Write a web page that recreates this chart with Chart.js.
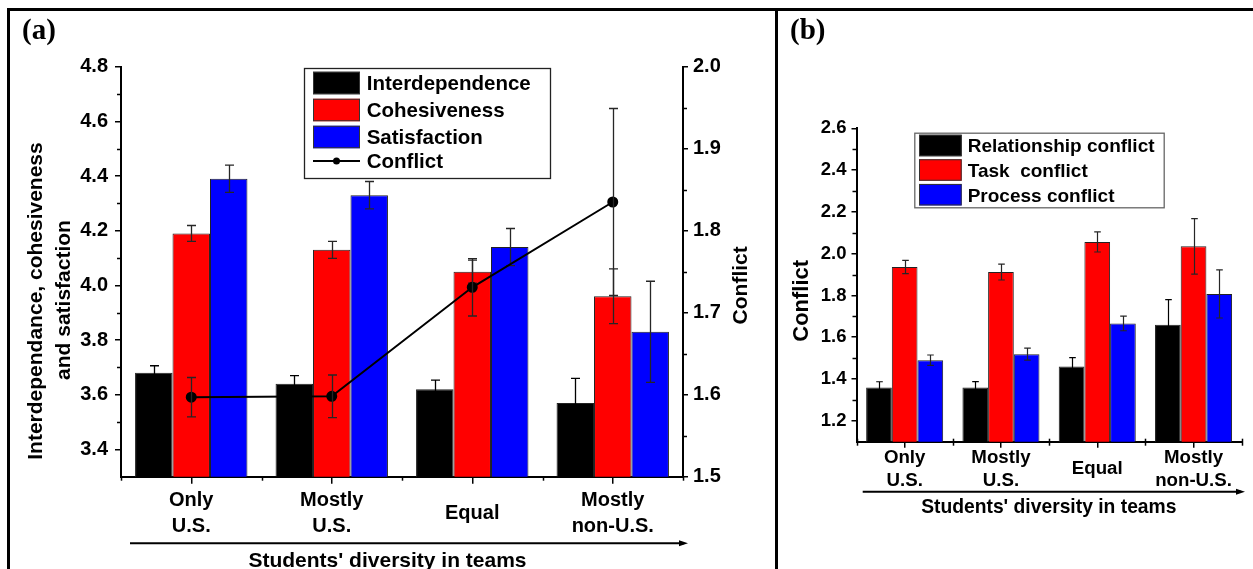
<!DOCTYPE html>
<html><head><meta charset="utf-8">
<script src="https://cdn.jsdelivr.net/npm/chart.js@4.4.1/dist/chart.umd.min.js"></script>
<style>
html,body{margin:0;padding:0;background:#fff;width:1253px;height:569px;overflow:hidden;}
#wa{position:absolute;left:0;top:0;width:775px;height:569px;}
#wb{position:absolute;left:775px;top:0;width:478px;height:569px;}
.ln{position:absolute;background:#000;}
</style></head><body>
<div id="wa"><canvas id="ca"></canvas></div>
<div id="wb"><canvas id="cb"></canvas></div>
<div class="ln" style="left:7px;top:8px;width:1246px;height:2.7px"></div>
<div class="ln" style="left:7px;top:8px;width:2.7px;height:561px"></div>
<div class="ln" style="left:775px;top:8px;width:2.8px;height:561px"></div>
<script>
// ---------- data ----------
const categories = ['Only U.S.', 'Mostly U.S.', 'Equal', 'Mostly non-U.S.'];
const categoryLines = [['Only', 'U.S.'], ['Mostly', 'U.S.'], ['Equal'], ['Mostly', 'non-U.S.']];
const xTitle = "Students' diversity in teams";

// panel (a)
const interdependence = [3.68, 3.64, 3.62, 3.57];
const interdependenceErr = [0.026, 0.030, 0.033, 0.090];
const cohesiveness = [4.19, 4.13, 4.05, 3.96];
const cohesivenessErr = [0.029, 0.031, 0.042, 0.100];
const satisfaction = [4.39, 4.33, 4.14, 3.83];
const satisfactionErr = [0.050, 0.050, 0.068, 0.185];
const conflict = [1.597, 1.598, 1.731, 1.835];
const conflictErr = [0.024, 0.026, 0.035, 0.114];
const leftTicksA = [3.4, 3.6, 3.8, 4.0, 4.2, 4.4, 4.6, 4.8];
const rightTicksA = [1.5, 1.6, 1.7, 1.8, 1.9, 2.0];

// panel (b)
const relationshipConflict = [1.36, 1.36, 1.46, 1.66];
const relationshipConflictErr = [0.027, 0.028, 0.042, 0.120];
const taskConflict = [1.936, 1.912, 2.056, 2.035];
const taskConflictErr = [0.032, 0.038, 0.048, 0.133];
const processConflict = [1.490, 1.519, 1.666, 1.807];
const processConflictErr = [0.025, 0.029, 0.035, 0.115];
const ticksB = [1.2, 1.4, 1.6, 1.8, 2.0, 2.2, 2.4, 2.6];

// ---------- helpers ----------
const SANS = '"Liberation Sans", Arial, sans-serif';
const SERIF = '"Liberation Serif", "Times New Roman", serif';
function f(size) { return 'bold ' + size + 'px ' + SANS; }

function makePlugin(c) {
  return {
    id: 'deco' + c.name,
    afterDatasetDraw(chart, args) {
      const ds = chart.data.datasets[args.index];
      if (!ds.errors) return;
      const meta = args.meta;
      const ys = chart.scales[meta.yAxisID];
      const ctx = chart.ctx;
      ctx.save();
      ctx.strokeStyle = ds.errorColor || c.errColor;
      ctx.lineWidth = c.errWidth;
      meta.data.forEach((el, j) => {
        const v = ds.data[j], e = ds.errors[j];
        const x = Math.round(el.x) + 0.5;
        const y1 = ys.getPixelForValue(v + e), y2 = ys.getPixelForValue(v - e);
        ctx.beginPath();
        ctx.moveTo(x, y1); ctx.lineTo(x, y2);
        ctx.moveTo(x - c.cap, y1); ctx.lineTo(x + c.cap, y1);
        ctx.moveTo(x - c.cap, y2); ctx.lineTo(x + c.cap, y2);
        ctx.stroke();
      });
      ctx.restore();
    },
    afterDraw(chart) {
      const ctx = chart.ctx;
      const ca = chart.chartArea;
      const xs = chart.scales.x;
      ctx.save();
      ctx.strokeStyle = '#000';
      ctx.fillStyle = '#000';
      ctx.lineWidth = 1.5;
      // minor y ticks
      c.minorY.forEach(m => {
        const sc = chart.scales[m.id];
        const arr = m.ticks;
        for (let i = 0; i < arr.length - 1; i++) {
          const y = Math.round(sc.getPixelForValue((arr[i] + arr[i + 1]) / 2)) + 0.5;
          const x0 = m.side === 'left' ? ca.left : ca.right;
          const dx = m.side === 'left' ? -4 : 4;
          ctx.beginPath(); ctx.moveTo(x0, y); ctx.lineTo(x0 + dx, y); ctx.stroke();
        }
      });
      // x boundary ticks
      const n = categories.length;
      for (let i = 0; i <= n; i++) {
        let x;
        if (i === 0) x = ca.left; else if (i === n) x = ca.right;
        else x = (xs.getPixelForValue(i - 1) + xs.getPixelForValue(i)) / 2;
        x = Math.round(x) + 0.5;
        ctx.beginPath(); ctx.moveTo(x, ca.bottom - c.bTickUp); ctx.lineTo(x, ca.bottom + 4); ctx.stroke();
      }
      // x category labels
      ctx.font = f(c.xLabSize);
      ctx.textAlign = 'center';
      ctx.textBaseline = 'alphabetic';
      categoryLines.forEach((lines, i) => {
        const x = xs.getPixelForValue(i);
        if (lines.length === 1) {
          ctx.fillText(lines[0], x, ca.bottom + c.xLabBase + c.xLabGap / 2);
        } else {
          lines.forEach((t, k) => ctx.fillText(t, x, ca.bottom + c.xLabBase + k * c.xLabGap));
        }
      });
      // arrow
      ctx.lineWidth = 2;
      ctx.beginPath(); ctx.moveTo(c.arrow[0], c.arrow[2]); ctx.lineTo(c.arrow[1] - 4, c.arrow[2]); ctx.stroke();
      ctx.beginPath();
      ctx.moveTo(c.arrow[1], c.arrow[2]);
      ctx.lineTo(c.arrow[1] - 9, c.arrow[2] - 3);
      ctx.lineTo(c.arrow[1] - 9, c.arrow[2] + 3);
      ctx.closePath(); ctx.fill();
      // x title
      ctx.font = f(c.xTitleSize);
      ctx.fillText(xTitle, c.xTitlePos[0], c.xTitlePos[1]);
      // y titles (rotated)
      c.yTitles.forEach(t => {
        ctx.save();
        ctx.translate(t.x, t.y);
        ctx.rotate(-Math.PI / 2);
        ctx.font = f(t.size);
        ctx.textAlign = 'center';
        ctx.fillText(t.text, 0, 0);
        ctx.restore();
      });
      // legend
      const L = c.legend;
      ctx.fillStyle = '#fff';
      ctx.fillRect(L.box[0], L.box[1], L.box[2], L.box[3]);
      ctx.strokeStyle = L.boxColor; ctx.lineWidth = 1.3;
      ctx.strokeRect(L.box[0] + 0.5, L.box[1] + 0.5, L.box[2], L.box[3]);
      ctx.font = f(L.size);
      ctx.textAlign = 'left';
      chart.data.datasets.forEach((ds, i) => {
        const cy = L.rows[i];
        if (ds.type === 'line') {
          ctx.strokeStyle = '#000'; ctx.lineWidth = 2;
          ctx.beginPath(); ctx.moveTo(L.sw[0], cy); ctx.lineTo(L.sw[1], cy); ctx.stroke();
          ctx.fillStyle = '#000';
          ctx.beginPath(); ctx.arc((L.sw[0] + L.sw[1]) / 2, cy, 3.5, 0, Math.PI * 2); ctx.fill();
        } else {
          ctx.fillStyle = ds.backgroundColor;
          ctx.fillRect(L.sw[0], cy - L.swH / 2, L.sw[1] - L.sw[0], L.swH);
          ctx.strokeStyle = '#333'; ctx.lineWidth = 1;
          ctx.strokeRect(L.sw[0] + 0.5, cy - L.swH / 2 + 0.5, L.sw[1] - L.sw[0] - 1, L.swH - 1);
        }
        ctx.fillStyle = '#000';
        ctx.fillText(ds.label, L.tx, cy + L.size * 0.36);
      });
      // panel label
      ctx.font = 'bold ' + c.tagSize + 'px ' + SERIF;
      ctx.fillText(c.tag, c.tagPos[0], c.tagPos[1]);
      ctx.restore();
    }
  };
}

function yScale(opts) {
  return Object.assign({
    type: 'linear',
    afterBuildTicks: s => { s.ticks = opts.list.map(v => ({ value: v })); },
    ticks: { font: { family: SANS, weight: 'bold', size: opts.size }, color: '#000', padding: opts.pad,
             callback: v => Number(v).toFixed(1) },
    grid: { drawOnChartArea: false, tickLength: opts.tl, color: '#000', lineWidth: 1.5 },
    border: { display: true, color: '#000', width: 2 },
    afterFit: s => { s.width = opts.w; }
  }, opts.extra);
}

Chart.defaults.font.family = SANS;

// ---------- panel (a) ----------
new Chart(document.getElementById('ca'), {
  type: 'bar',
  data: {
    labels: categories,
    datasets: [
      { label: 'Interdependence', data: interdependence, errors: interdependenceErr, errorColor: '#000', backgroundColor: '#000000', borderColor: '#222', borderWidth: 1, yAxisID: 'y', order: 1 },
      { label: 'Cohesiveness', data: cohesiveness, errors: cohesivenessErr, backgroundColor: '#ff0000', borderColor: '#222', borderWidth: 1, yAxisID: 'y', order: 1 },
      { label: 'Satisfaction', data: satisfaction, errors: satisfactionErr, backgroundColor: '#0000ff', borderColor: '#222', borderWidth: 1, yAxisID: 'y', order: 1 },
      { type: 'line', label: 'Conflict', data: conflict, errors: conflictErr, borderColor: '#000', backgroundColor: '#000', borderWidth: 2,
        pointRadius: 4.5, pointBackgroundColor: '#000', pointBorderColor: '#000', tension: 0, yAxisID: 'y2', order: 0 }
    ]
  },
  options: {
    responsive: true, maintainAspectRatio: false, animation: false,
    layout: { padding: { left: 0, right: 0, top: 66.7, bottom: 0 } },
    datasets: { bar: { categoryPercentage: 0.8, barPercentage: 1.0 } },
    plugins: { legend: { display: false }, tooltip: { enabled: false } },
    scales: {
      x: { type: 'category', offset: true,
           ticks: { display: false },
           grid: { display: true, drawOnChartArea: false, offset: false, tickLength: 7, color: '#000', lineWidth: 1.5 },
           border: { display: true, color: '#000', width: 2 },
           afterFit: s => { s.height = 92.3; } },
      y: yScale({ list: leftTicksA, size: 20, pad: 7, tl: 6, w: 121, extra: { position: 'left', min: 3.3, max: 4.8 } }),
      y2: yScale({ list: rightTicksA, size: 20, pad: 5, tl: 5, w: 92, extra: { position: 'right', min: 1.5, max: 2.0 } })
    }
  },
  plugins: [makePlugin({
    name: 'a', errColor: '#262626', errWidth: 1.3, cap: 4.5,
    minorY: [{ id: 'y', ticks: leftTicksA, side: 'left' }, { id: 'y2', ticks: rightTicksA, side: 'right' }],
    bTickUp: 0,
    xLabSize: 20, xLabBase: 29, xLabGap: 26.3,
    arrow: [130, 688, 543.3],
    xTitleSize: 21, xTitlePos: [387.5, 567],
    yTitles: [
      { text: 'Interdependance, cohesiveness', x: 42, y: 301, size: 21 },
      { text: 'and satisfaction', x: 70, y: 300, size: 21 },
      { text: 'Conflict', x: 746.5, y: 285.3, size: 21 }
    ],
    legend: { box: [304, 68, 246, 110], boxColor: '#222', size: 20.5, sw: [313, 360], swH: 22.5, tx: 366.7, rows: [83, 110, 137, 161] },
    tag: '(a)', tagSize: 29, tagPos: [22, 39]
  })]
});

// ---------- panel (b) ----------
new Chart(document.getElementById('cb'), {
  type: 'bar',
  data: {
    labels: categories,
    datasets: [
      { label: 'Relationship conflict', data: relationshipConflict, errors: relationshipConflictErr, errorColor: '#000', backgroundColor: '#000000', borderColor: '#222', borderWidth: 1, yAxisID: 'y' },
      { label: 'Task  conflict', data: taskConflict, errors: taskConflictErr, backgroundColor: '#ff0000', borderColor: '#222', borderWidth: 1, yAxisID: 'y' },
      { label: 'Process conflict', data: processConflict, errors: processConflictErr, backgroundColor: '#0000ff', borderColor: '#222', borderWidth: 1, yAxisID: 'y' }
    ]
  },
  options: {
    responsive: true, maintainAspectRatio: false, animation: false,
    layout: { padding: { left: 0, right: 11.3, top: 128.3, bottom: 0 } },
    datasets: { bar: { categoryPercentage: 0.8, barPercentage: 1.0 } },
    plugins: { legend: { display: false }, tooltip: { enabled: false } },
    scales: {
      x: { type: 'category', offset: true,
           ticks: { display: false },
           grid: { display: true, drawOnChartArea: false, offset: false, tickLength: 6, color: '#000', lineWidth: 1.5 },
           border: { display: true, color: '#000', width: 2 },
           afterFit: s => { s.height = 127.3; } },
      y: yScale({ list: ticksB, size: 18.5, pad: 5, tl: 5, w: 81.5, extra: { position: 'left', min: 1.1, max: 2.6 } })
    }
  },
  plugins: [makePlugin({
    name: 'b', errColor: '#262626', errWidth: 1.2, cap: 3.3,
    minorY: [{ id: 'y', ticks: ticksB, side: 'left' }],
    bTickUp: 3,
    xLabSize: 18.7, xLabBase: 21, xLabGap: 23.5,
    arrow: [87.7, 470, 491.7],
    xTitleSize: 19.3, xTitlePos: [273.8, 512.7],
    yTitles: [
      { text: 'Conflict', x: 33.3, y: 300.8, size: 22 }
    ],
    legend: { box: [139.3, 132.7, 249.4, 74.6], boxColor: '#666', size: 19, sw: [144, 186.7], swH: 21.5, tx: 192.7, rows: [145.5, 170, 194.7] },
    tag: '(b)', tagSize: 29, tagPos: [15, 39]
  })]
});
</script>
</body></html>
